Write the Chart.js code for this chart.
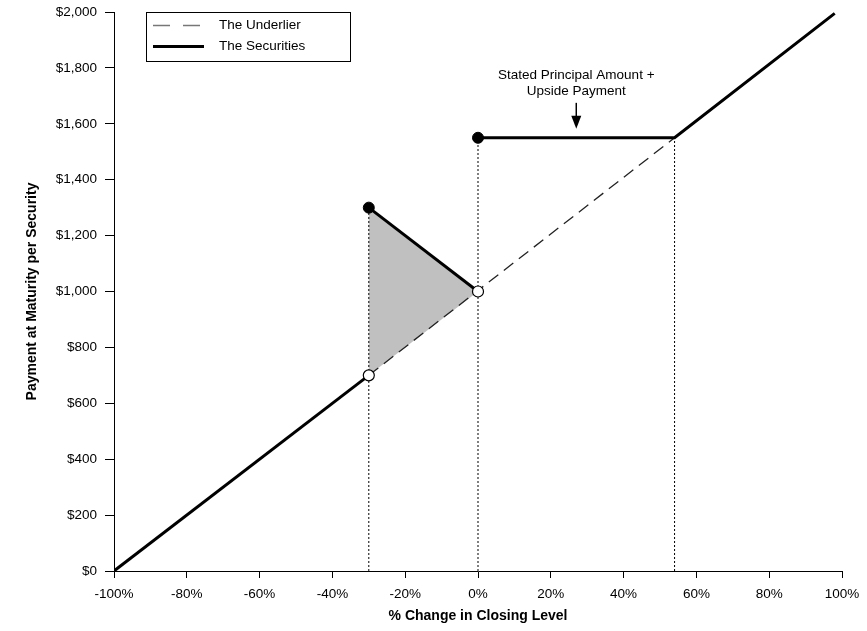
<!DOCTYPE html>
<html><head><meta charset="utf-8">
<script src="https://cdn.jsdelivr.net/npm/chart.js@4/dist/chart.umd.min.js"></script>
<style>html,body{margin:0;padding:0;background:#fff}#wrap{width:867px;height:631px}</style>
</head><body><div id="wrap"><canvas id="c"></canvas></div>
<script>
// ---- data ----
const xTicks = [-100,-80,-60,-40,-20,0,20,40,60,80,100];
const yTicks = [0,200,400,600,800,1000,1200,1400,1600,1800,2000];
const securitiesLow = [{x:-100,y:0},{x:-30,y:700}];
const securitiesMid = [{x:-30,y:1300},{x:0,y:1000}];
const securitiesHigh = [{x:0,y:1550},{x:54,y:1550},{x:98,y:1995}];
const underlier = [{x:-30,y:700},{x:54,y:1550}];
const shadedRegion = [{x:-30,y:700},{x:-30,y:1300},{x:0,y:1000},{x:-30,y:700}];
const dottedA = [{x:-30,y:0},{x:-30,y:1300}];
const dottedB = [{x:0,y:0},{x:0,y:1550}];
const dottedC = [{x:54,y:0},{x:54,y:1550}];
const filledDots = [{x:-30,y:1300},{x:0,y:1550}];
const openDots = [{x:-30,y:700},{x:0,y:1000}];
const annotationLines = ['Stated Principal Amount +','Upside Payment'];
const annotationAt = {x:27, y1:1773, y2:1718, arrowTop:1675, arrowTip:1582};
const legendLabels = ['The Underlier','The Securities'];

const FONT = 'Arial, "Liberation Sans", sans-serif';

const line = (data, o) => Object.assign({data, showLine:true, pointRadius:0, fill:false, tension:0, borderColor:'#000', borderWidth:1}, o);

const overlay = {
  id:'overlay',
  afterDraw(chart){
    const ctx = chart.ctx, xs = chart.scales.x, ys = chart.scales.y;
    ctx.save();
    // annotation
    ctx.fillStyle='#000'; ctx.font='13.5px '+FONT; ctx.textAlign='center'; ctx.textBaseline='middle';
    const ax = xs.getPixelForValue(annotationAt.x);
    ctx.fillText(annotationLines[0], ax, ys.getPixelForValue(annotationAt.y1));
    ctx.fillText(annotationLines[1], ax, ys.getPixelForValue(annotationAt.y2));
    const at = ys.getPixelForValue(annotationAt.arrowTop), tip = ys.getPixelForValue(annotationAt.arrowTip);
    ctx.strokeStyle='#000'; ctx.lineWidth=1.5;
    ctx.beginPath(); ctx.moveTo(ax, at); ctx.lineTo(ax, tip-10); ctx.stroke();
    ctx.beginPath(); ctx.moveTo(ax-5, tip-13); ctx.lineTo(ax+5, tip-13); ctx.lineTo(ax, tip); ctx.closePath(); ctx.fill();
    // legend
    const L=146, T=12, W=204, H=49;
    ctx.fillStyle='#fff'; ctx.fillRect(L,T,W,H);
    ctx.strokeStyle='#000'; ctx.lineWidth=1; ctx.strokeRect(L+0.5,T+0.5,W,H);
    ctx.strokeStyle='#777'; ctx.lineWidth=1.5; ctx.setLineDash([17,13]);
    ctx.beginPath(); ctx.moveTo(153,25.5); ctx.lineTo(204,25.5); ctx.stroke();
    ctx.setLineDash([]); ctx.strokeStyle='#000'; ctx.lineWidth=3;
    ctx.beginPath(); ctx.moveTo(153,46.5); ctx.lineTo(204,46.5); ctx.stroke();
    ctx.fillStyle='#000'; ctx.textAlign='left'; ctx.font='13.5px '+FONT;
    ctx.fillText(legendLabels[0], 219, 25.5);
    ctx.fillText(legendLabels[1], 219, 46.5);
    ctx.restore();
  }
};

new Chart(document.getElementById('c'), {
  type:'scatter',
  data:{datasets:[
    line(shadedRegion,{order:10, borderWidth:0, borderColor:'rgba(0,0,0,0)', backgroundColor:'#c0c0c0', fill:'shape'}),
    line(dottedA,{order:9, borderDash:[2,2]}),
    line(dottedB,{order:9, borderDash:[2,2]}),
    line(dottedC,{order:9, borderDash:[2,2]}),
    line(underlier,{order:8, borderColor:'#222', borderWidth:1.3, borderDash:[12,7]}),
    line(securitiesLow,{order:7, borderWidth:3}),
    line(securitiesMid,{order:7, borderWidth:3}),
    line(securitiesHigh,{order:7, borderWidth:3}),
    {order:1, data:openDots, pointRadius:5.5, pointBackgroundColor:'#fff', pointBorderColor:'#000', pointBorderWidth:1.2},
    {order:1, data:filledDots, pointRadius:5.5, pointBackgroundColor:'#000', pointBorderColor:'#000', pointBorderWidth:1}
  ]},
  options:{
    responsive:true, maintainAspectRatio:false, animation:false,
    layout:{padding:{left:24,right:25,top:12,bottom:6}},
    plugins:{legend:{display:false}, tooltip:{enabled:false}},
    scales:{
      x:{type:'linear', min:-100, max:100,
        afterBuildTicks(s){ s.ticks = xTicks.map(v=>({value:v})); },
        afterFit(s){ s.height = 54; s.paddingLeft = 0; s.paddingRight = 0; },
        grid:{display:true, drawOnChartArea:false, drawTicks:true, tickLength:7, tickColor:'#000', tickWidth:1},
        border:{display:true, color:'#000', width:1},
        ticks:{color:'#000', font:{family:FONT, size:13.5}, padding:8, maxRotation:0, autoSkip:false, callback:v=>v+'%'},
        title:{display:true, text:'% Change in Closing Level', color:'#000', font:{family:FONT, size:14, weight:'bold'}, padding:{top:0,bottom:0}}
      },
      y:{type:'linear', min:0, max:2000,
        afterBuildTicks(s){ s.ticks = yTicks.map(v=>({value:v})); },
        afterFit(s){ s.width = 90; s.paddingTop = 0; s.paddingBottom = 0; },
        grid:{display:true, drawOnChartArea:false, drawTicks:true, tickLength:9, tickColor:'#000', tickWidth:1},
        border:{display:true, color:'#000', width:1},
        ticks:{color:'#000', font:{family:FONT, size:13.5}, padding:8, autoSkip:false, callback:v=>'$'+v.toLocaleString('en-US')},
        title:{display:true, text:'Payment at Maturity per Security', color:'#000', font:{family:FONT, size:14, weight:'bold'}, padding:{top:0,bottom:0}}
      }
    }
  },
  plugins:[overlay]
});
</script></body></html>
